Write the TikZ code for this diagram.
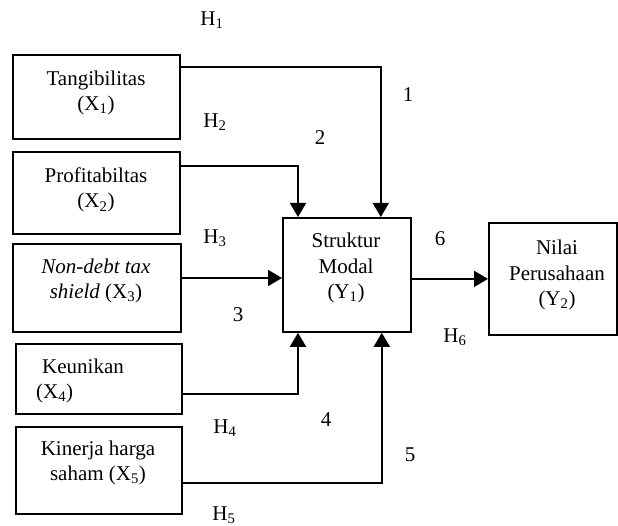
\documentclass[tikz,border=0pt]{standalone}
\usepackage{fontspec}
\setmainfont{Liberation Serif}
\usetikzlibrary{arrows.meta}
\begin{document}
\begin{tikzpicture}[x=1pt,y=-1pt,
  box/.style={draw,line width=1.8pt,inner sep=0pt,anchor=north west},
  txt/.style={align=center,inner sep=0pt,font=\fontsize{21}{25.5}\selectfont},
  lbl/.style={inner sep=0pt,font=\fontsize{21}{25.5}\selectfont},
  arr/.style={line width=1.8pt,-{Triangle[length=14pt,width=16pt]}}]
\useasboundingbox (0,0) rectangle (618,526);
% boxes
\node[box,minimum width=167pt,minimum height=84pt] (X1) at (12,54) {};
\node[box,minimum width=167pt,minimum height=82pt] (X2) at (12,151) {};
\node[box,minimum width=168pt,minimum height=88pt] (X3) at (12,243) {};
\node[box,minimum width=166pt,minimum height=70pt] (X4) at (15,343) {};
\node[box,minimum width=166pt,minimum height=87pt] (X5) at (15,426) {};
\node[box,minimum width=128pt,minimum height=114pt] (S) at (282,217) {};
\node[box,minimum width=128pt,minimum height=112pt] (Y) at (488,222) {};
% texts
\node[txt] (t1) at (96,93) {Tangibilitas\\(X\textsubscript{1})};
\node[txt] (t2) at (96,190) {Profitabiltas\\(X\textsubscript{2})};
\node[txt] (t3) at (96,281) {\textit{Non-debt tax}\\\textit{shield} (X\textsubscript{3})};
\node[txt,align=left,anchor=west] (t4) at (36,381) {\hspace{6pt}Keunikan\\(X\textsubscript{4})};
\node[txt] (t5) at (98,463) {Kinerja harga\\saham (X\textsubscript{5})};
\node[txt] (tS) at (346,268) {Struktur\\Modal\\(Y\textsubscript{1})};
\node[txt] (tY) at (557,275) {Nilai\\Perusahaan\\(Y\textsubscript{2})};
% labels
\node[lbl] (h1) at (212,20) {H\textsubscript{1}};
\node[lbl] (h2) at (215,122) {H\textsubscript{2}};
\node[lbl] (h3) at (215,238) {H\textsubscript{3}};
\node[lbl] (h4) at (225,428) {H\textsubscript{4}};
\node[lbl] (h5) at (224,515) {H\textsubscript{5}};
\node[lbl] (h6) at (455,337) {H\textsubscript{6}};
\node[lbl] (n1) at (408,95) {1};
\node[lbl] (n2) at (320,138) {2};
\node[lbl] (n3) at (238,315) {3};
\node[lbl] (n4) at (326,420) {4};
\node[lbl] (n5) at (410,455) {5};
\node[lbl] (n6) at (440,239) {6};
% connectors
\coordinate (p1) at ([yshift=-13pt]X1.north east);
\coordinate (q1) at ([xshift=-31pt]S.north east);
\draw[arr] (p1) -| (q1);
\coordinate (p2) at ([yshift=-15pt]X2.north east);
\coordinate (q2) at ([xshift=16pt]S.north west);
\draw[arr] (p2) -| (q2);
\coordinate (p3) at ([yshift=-35pt]X3.north east);
\draw[arr] (p3) -- (p3 -| S.west);
\coordinate (p4) at ([yshift=21pt]X4.south east);
\coordinate (q4) at ([xshift=16pt]S.south west);
\draw[arr] (p4) -| (q4);
\coordinate (p5) at ([yshift=32pt]X5.south east);
\coordinate (q5) at ([xshift=-30pt]S.south east);
\draw[arr] (p5) -| (q5);
\coordinate (p6) at ([yshift=-4pt]S.east);
\draw[arr] (p6) -- (p6 -| Y.west);
\end{tikzpicture}
\end{document}
